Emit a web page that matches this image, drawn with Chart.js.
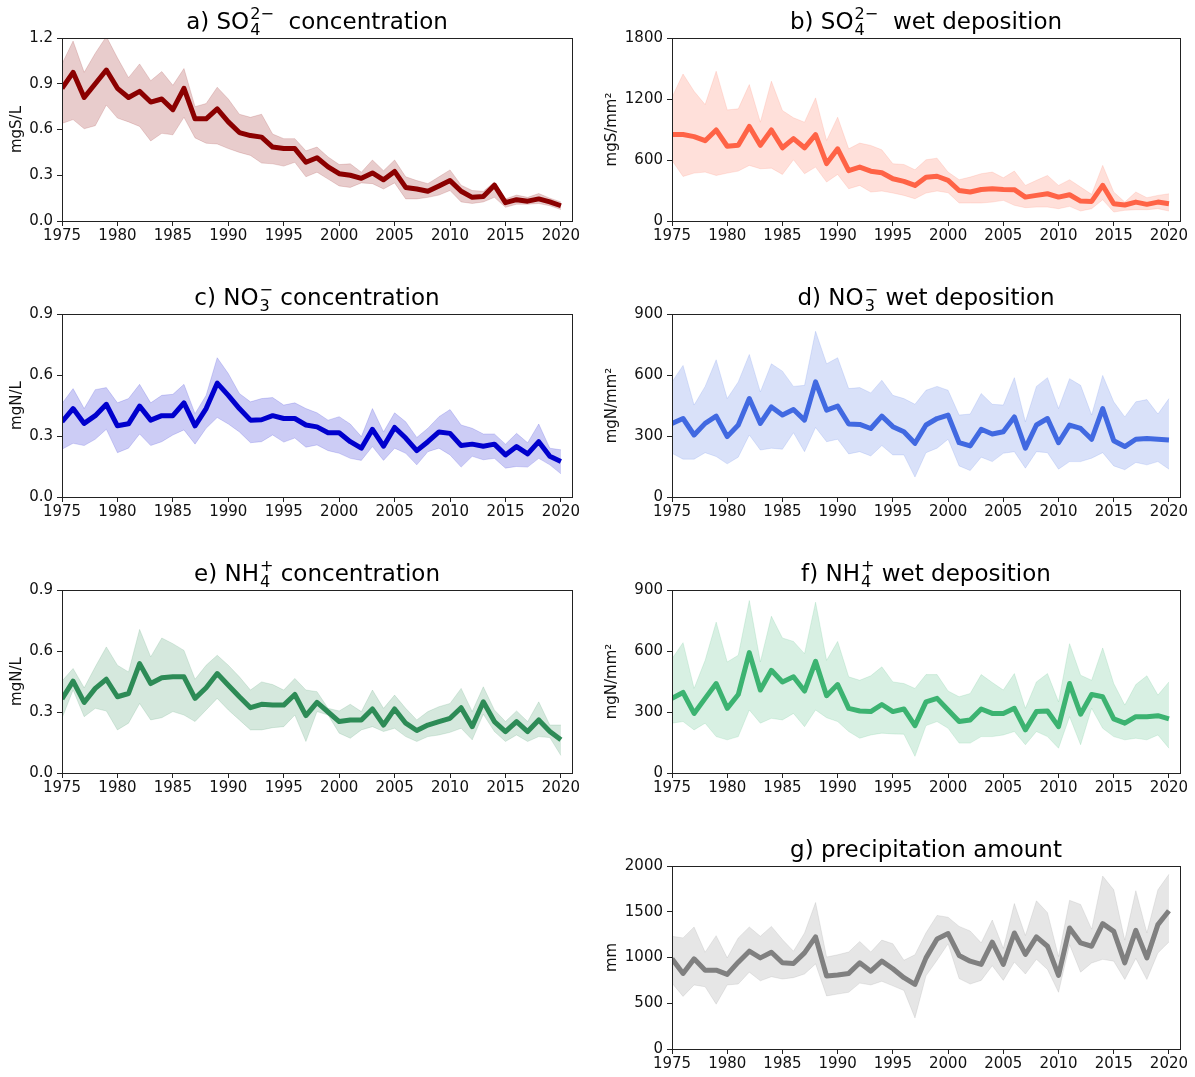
<!DOCTYPE html>
<html lang="en">
<head>
    <meta charset="UTF-8">
    <title>Wet deposition trends</title>
    <script src="https://cdn.jsdelivr.net/npm/chart.js"></script>
    <style>
        body {
            margin: 0;
            background: #fff;
            width: 1195px;
            height: 1077px;
            position: relative;
            overflow: hidden;
        }
        canvas {
            position: absolute;
        }
    </style>
</head>
<body>

    <canvas id="pa" width="590" height="260" style="left:0;top:0"></canvas>
    <canvas id="pb" width="595" height="260" style="left:600px;top:0"></canvas>
    <canvas id="pc" width="590" height="260" style="left:0;top:276px"></canvas>
    <canvas id="pd" width="595" height="260" style="left:600px;top:276px"></canvas>
    <canvas id="pe" width="590" height="260" style="left:0;top:552px"></canvas>
    <canvas id="pf" width="595" height="260" style="left:600px;top:552px"></canvas>
    <canvas id="pg" width="595" height="260" style="left:600px;top:828px"></canvas>

    <script>
        const years = [1975, 1976, 1977, 1978, 1979, 1980, 1981, 1982, 1983, 1984,
            1985, 1986, 1987, 1988, 1989, 1990, 1991, 1992, 1993, 1994,
            1995, 1996, 1997, 1998, 1999, 2000, 2001, 2002, 2003, 2004,
            2005, 2006, 2007, 2008, 2009, 2010, 2011, 2012, 2013, 2014,
            2015, 2016, 2017, 2018, 2019, 2020];

        // a) SO4 concentration (mgS/L)
        const so4ConcMean = [0.87, 0.975, 0.81, 0.90, 0.99, 0.87, 0.81, 0.85, 0.78, 0.80,
            0.73, 0.87, 0.67, 0.67, 0.735, 0.65, 0.58, 0.56, 0.55, 0.485,
            0.475, 0.475, 0.385, 0.415, 0.355, 0.31, 0.30, 0.28, 0.315, 0.27,
            0.325, 0.22, 0.21, 0.195, 0.23, 0.265, 0.195, 0.155, 0.16, 0.235,
            0.12, 0.14, 0.13, 0.145, 0.125, 0.10];
        const so4ConcHigh = [1.03, 1.18, 0.975, 1.10, 1.21, 1.07, 0.94, 1.03, 0.92, 0.98,
            0.89, 1.0, 0.75, 0.77, 0.877, 0.80, 0.70, 0.68, 0.70, 0.57,
            0.54, 0.54, 0.46, 0.485, 0.42, 0.37, 0.375, 0.32, 0.40, 0.33,
            0.40, 0.29, 0.265, 0.245, 0.29, 0.335, 0.235, 0.20, 0.195, 0.255,
            0.145, 0.17, 0.155, 0.18, 0.15, 0.125];
        const so4ConcLow = [0.64, 0.665, 0.605, 0.625, 0.76, 0.675, 0.65, 0.62, 0.525, 0.575,
            0.565, 0.68, 0.545, 0.51, 0.505, 0.475, 0.45, 0.43, 0.38, 0.375,
            0.36, 0.385, 0.29, 0.32, 0.275, 0.23, 0.22, 0.25, 0.245, 0.21,
            0.25, 0.145, 0.145, 0.155, 0.17, 0.20, 0.125, 0.115, 0.125, 0.155,
            0.09, 0.11, 0.11, 0.115, 0.10, 0.075];

        // b) SO4 wet deposition (mgS/mm2)
        const so4DepMean = [851, 850, 830, 790, 895, 735, 745, 930, 745, 895,
            720, 810, 720, 850, 565, 710, 495, 530, 490, 475,
            415, 390, 350, 430, 440, 400, 300, 285, 310, 318,
            310, 308, 235, 252, 268, 235, 258, 196, 193, 350,
            170, 157, 186, 164, 186, 170];
        const so4DepHigh = [1217, 1446, 1276, 1145, 1473, 1093, 1103, 1342, 972, 1375,
            1087, 1015, 972, 1211, 792, 1021, 710, 766, 743, 700,
            563, 556, 504, 602, 618, 481, 406, 432, 465, 481,
            425, 491, 350, 400, 448, 350, 406, 334, 262, 547,
            285, 186, 285, 229, 252, 268];
        const so4DepLow = [596, 438, 471, 481, 448, 471, 491, 547, 514, 520,
            458, 602, 465, 530, 383, 458, 317, 350, 285, 295,
            275, 252, 219, 275, 295, 278, 177, 177, 177, 186,
            203, 154, 131, 137, 137, 121, 144, 98, 121, 209,
            88, 105, 111, 111, 121, 98];

        // c) NO3 concentration (mgN/L)
        const no3ConcMean = [0.37, 0.435, 0.362, 0.40, 0.456, 0.35, 0.36, 0.447, 0.378, 0.40,
            0.40, 0.463, 0.35, 0.435, 0.56, 0.50, 0.435, 0.378, 0.38, 0.40,
            0.386, 0.386, 0.354, 0.345, 0.316, 0.316, 0.272, 0.24, 0.333, 0.25,
            0.342, 0.29, 0.228, 0.272, 0.32, 0.313, 0.253, 0.26, 0.25, 0.26,
            0.207, 0.248, 0.212, 0.272, 0.20, 0.175];
        const no3ConcHigh = [0.46, 0.533, 0.435, 0.528, 0.538, 0.463, 0.484, 0.554, 0.463, 0.50,
            0.505, 0.554, 0.41, 0.50, 0.685, 0.607, 0.509, 0.468, 0.484, 0.489,
            0.452, 0.463, 0.435, 0.414, 0.378, 0.395, 0.359, 0.297, 0.435, 0.32,
            0.414, 0.37, 0.293, 0.338, 0.395, 0.43, 0.354, 0.338, 0.31, 0.31,
            0.26, 0.313, 0.267, 0.359, 0.24, 0.232];
        const no3ConcLow = [0.235, 0.264, 0.253, 0.284, 0.333, 0.218, 0.24, 0.31, 0.253, 0.272,
            0.305, 0.33, 0.26, 0.338, 0.391, 0.359, 0.32, 0.267, 0.272, 0.305,
            0.27, 0.29, 0.245, 0.256, 0.228, 0.215, 0.19, 0.18, 0.248, 0.18,
            0.24, 0.215, 0.158, 0.223, 0.24, 0.207, 0.147, 0.20, 0.183, 0.19,
            0.142, 0.15, 0.147, 0.19, 0.158, 0.114];

        // d) NO3 wet deposition (mgN/mm2)
        const no3DepMean = [362, 386, 305, 362, 398, 297, 354, 484, 362, 443,
            403, 430, 378, 566, 427, 447, 359, 357, 337, 398,
            346, 321, 264, 354, 386, 403, 267, 251, 333, 310,
            321, 394, 240, 354, 386, 267, 354, 337, 284, 435,
            277, 248, 284, 288, 284, 280];
        const no3DepHigh = [566, 647, 452, 544, 675, 484, 566, 701, 517, 655,
            619, 544, 549, 815, 655, 685, 533, 538, 512, 574,
            500, 484, 456, 525, 544, 525, 403, 408, 509, 456,
            452, 587, 370, 544, 587, 435, 582, 549, 403, 598,
            468, 394, 468, 479, 408, 484];
        const no3DepLow = [215, 186, 186, 218, 199, 163, 196, 305, 231, 240,
            235, 316, 223, 342, 272, 284, 212, 223, 202, 253,
            207, 207, 98, 218, 240, 284, 153, 130, 196, 174,
            215, 223, 142, 223, 218, 137, 174, 174, 191, 218,
            153, 134, 170, 158, 174, 137];

        // e) NH4 concentration (mgN/L)
        const nh4ConcMean = [0.364, 0.452, 0.347, 0.416, 0.461, 0.375, 0.391, 0.538, 0.44, 0.468,
            0.473, 0.473, 0.367, 0.419, 0.489, 0.432, 0.375, 0.321, 0.338, 0.334,
            0.334, 0.386, 0.282, 0.347, 0.30, 0.253, 0.261, 0.261, 0.315, 0.236,
            0.315, 0.245, 0.209, 0.236, 0.253, 0.269, 0.321, 0.228, 0.35, 0.253,
            0.204, 0.253, 0.204, 0.261, 0.204, 0.163];
        const nh4ConcHigh = [0.452, 0.514, 0.419, 0.522, 0.62, 0.53, 0.497, 0.706, 0.571, 0.664,
            0.636, 0.603, 0.461, 0.53, 0.579, 0.53, 0.473, 0.408, 0.448, 0.435,
            0.408, 0.465, 0.408, 0.40, 0.318, 0.305, 0.338, 0.302, 0.408, 0.318,
            0.383, 0.318, 0.261, 0.302, 0.326, 0.342, 0.416, 0.302, 0.424, 0.31,
            0.253, 0.305, 0.253, 0.35, 0.236, 0.236];
        const nh4ConcLow = [0.269, 0.408, 0.277, 0.318, 0.305, 0.212, 0.245, 0.342, 0.261, 0.272,
            0.302, 0.285, 0.253, 0.31, 0.367, 0.31, 0.261, 0.212, 0.212, 0.223,
            0.228, 0.285, 0.155, 0.302, 0.285, 0.196, 0.171, 0.212, 0.228, 0.204,
            0.22, 0.179, 0.155, 0.179, 0.187, 0.20, 0.22, 0.163, 0.289, 0.204,
            0.155, 0.187, 0.155, 0.179, 0.174, 0.086];

        // f) NH4 wet deposition (mgN/mm2)
        const nh4DepMean = [367, 396, 293, 367, 440, 318, 386, 592, 408, 505,
            448, 473, 403, 549, 380, 435, 318, 305, 302, 337,
            302, 315, 233, 350, 367, 310, 253, 261, 315, 293,
            293, 318, 212, 302, 305, 228, 440, 289, 386, 375,
            266, 245, 277, 277, 282, 266];
        const nh4DepHigh = [562, 641, 416, 554, 742, 546, 579, 848, 546, 771,
            664, 647, 587, 840, 554, 647, 473, 456, 478, 522,
            448, 440, 416, 484, 484, 403, 375, 391, 484, 445,
            408, 489, 318, 448, 489, 350, 636, 481, 456, 615,
            440, 334, 435, 478, 383, 448];
        const nh4DepLow = [245, 253, 212, 245, 179, 163, 179, 310, 245, 269,
            261, 293, 228, 310, 272, 253, 204, 171, 187, 196,
            192, 191, 82, 233, 253, 220, 147, 147, 179, 179,
            187, 204, 139, 204, 179, 122, 277, 139, 318, 220,
            179, 163, 171, 163, 187, 122];

        // g) precipitation amount (mm)
        const precipMean = [985, 826, 985, 862, 862, 815, 949, 1069, 996, 1058,
            942, 935, 1051, 1225, 797, 808, 826, 942, 851, 960,
            877, 779, 706, 996, 1203, 1261, 1022, 960, 924, 1167,
            924, 1268, 1033, 1225, 1123, 804, 1322, 1159, 1123, 1370,
            1286, 942, 1297, 996, 1359, 1511];
        const precipHigh = [1232, 1214, 1333, 1058, 1239, 996, 1214, 1333, 1232, 1340,
            1196, 1069, 1268, 1601, 1005, 1030, 1060, 1175, 1060, 1190,
            1150, 970, 1030, 1270, 1460, 1440, 1340, 1290, 1160, 1410,
            1100, 1590, 1240, 1620, 1490, 1010, 1625, 1580, 1310, 1890,
            1740, 1190, 1730, 1270, 1740, 1910];
        const precipLow = [720, 575, 700, 680, 490, 700, 710, 840, 745, 790,
            765, 780, 820, 930, 580, 600, 620, 720, 700, 740,
            690, 640, 340, 800, 970, 1150, 770, 710, 750, 910,
            750, 950, 820, 980, 870, 620, 1140, 840, 940, 980,
            960, 760, 990, 760, 1050, 1170];

        const FONT = "'DejaVu Sans', sans-serif";

        // title with matplotlib-like stacked super/subscript
        const titlePlugin = {
            id: 'mplTitle',
            afterDraw(chart, args, opts) {
                const ctx = chart.ctx;
                const size = opts.size;
                const small = size * 0.7;
                const big = `${size}px ${FONT}`;
                const sm = `${small}px ${FONT}`;
                let total = 0;
                opts.parts.forEach(p => {
                    if (typeof p === 'string') {
                        ctx.font = big;
                        total += ctx.measureText(p).width;
                    } else {
                        ctx.font = sm;
                        total += Math.max(ctx.measureText(p.sup).width, ctx.measureText(p.sub).width) + 1;
                    }
                });
                const area = chart.chartArea;
                let x = (area.left + area.right) / 2 - total / 2;
                const base = opts.baseline;
                ctx.save();
                ctx.fillStyle = '#000';
                ctx.textBaseline = 'alphabetic';
                ctx.textAlign = 'left';
                opts.parts.forEach(p => {
                    if (typeof p === 'string') {
                        ctx.font = big;
                        ctx.fillText(p, x, base);
                        x += ctx.measureText(p).width;
                    } else {
                        ctx.font = sm;
                        ctx.fillText(p.sup, x + 1, base - size * 0.42);
                        ctx.fillText(p.sub, x + 1, base + size * 0.26);
                        x += Math.max(ctx.measureText(p.sup).width, ctx.measureText(p.sub).width) + 1;
                    }
                });
                ctx.restore();
            }
        };

        // box around the plot area (all four spines)
        const framePlugin = {
            id: 'frame',
            afterDatasetsDraw(chart) {
                const a = chart.chartArea;
                const ctx = chart.ctx;
                ctx.save();
                ctx.strokeStyle = '#222';
                ctx.lineWidth = 1;
                ctx.strokeRect(Math.round(a.left) + 0.5, Math.round(a.top) + 0.5,
                    Math.round(a.right - a.left), Math.round(a.bottom - a.top));
                ctx.restore();
            }
        };

        function toXY(values) {
            return values.map((v, i) => ({ x: years[i], y: v }));
        }

        function makePanel(id, p) {
            const ctx = document.getElementById(id).getContext('2d');
            return new Chart(ctx, {
                type: 'line',
                data: {
                    datasets: [
                        {
                            data: toXY(p.high),
                            borderColor: p.edge,
                            borderWidth: 1,
                            backgroundColor: p.band,
                            fill: '+1',
                            pointRadius: 0,
                            tension: 0
                        },
                        {
                            data: toXY(p.low),
                            borderColor: p.edge,
                            borderWidth: 1,
                            fill: false,
                            pointRadius: 0,
                            tension: 0
                        },
                        {
                            data: toXY(p.mean),
                            borderColor: p.color,
                            borderWidth: 5,
                            fill: false,
                            pointRadius: 0,
                            tension: 0,
                            borderJoinStyle: 'round',
                            borderCapStyle: 'butt'
                        }
                    ]
                },
                options: {
                    responsive: false,
                    animation: false,
                    events: [],
                    layout: {
                        padding: { top: 38, right: p.padRight, left: 0, bottom: 0 }
                    },
                    plugins: {
                        legend: { display: false },
                        tooltip: { enabled: false },
                        mplTitle: { parts: p.title, size: 23, baseline: 29 }
                    },
                    scales: {
                        x: {
                            type: 'linear',
                            min: 1975,
                            max: 2021,
                            border: { display: false },
                            grid: {
                                drawOnChartArea: false,
                                drawTicks: true,
                                tickLength: 5,
                                tickColor: '#222'
                            },
                            ticks: {
                                stepSize: 5,
                                includeBounds: false,
                                autoSkip: false,
                                maxRotation: 0,
                                padding: 1,
                                color: '#111',
                                font: { family: FONT, size: 15 },
                                callback: v => String(v)
                            },
                            afterFit: s => { s.height = 39; }
                        },
                        y: {
                            min: 0,
                            max: p.ymax,
                            border: { display: false },
                            grid: {
                                drawOnChartArea: false,
                                drawTicks: true,
                                tickLength: 5,
                                tickColor: '#222'
                            },
                            ticks: {
                                stepSize: p.ystep,
                                padding: 4,
                                color: '#111',
                                font: { family: FONT, size: 15 },
                                callback: v => p.decimals ? v.toFixed(p.decimals) : String(Math.round(v))
                            },
                            title: {
                                display: true,
                                text: p.ylabel,
                                color: '#111',
                                font: { family: FONT, size: 15 },
                                padding: { top: p.titlePad, bottom: 0 }
                            },
                            afterFit: s => { s.width = p.axisWidth; }
                        }
                    }
                },
                plugins: [titlePlugin, framePlugin]
            });
        }

        const leftPanel = { padRight: 18, axisWidth: 62, titlePad: 8 };
        const rightPanel = { padRight: 15, axisWidth: 72, titlePad: 3 };

        makePanel('pa', Object.assign({}, leftPanel, {
            title: ['a) SO', { sup: '2\u2212', sub: '4' }, '  concentration'],
            mean: so4ConcMean, high: so4ConcHigh, low: so4ConcLow,
            color: '#8b0000', band: 'rgba(139,0,0,0.2)', edge: 'rgba(139,0,0,0.15)',
            ymax: 1.2, ystep: 0.3, decimals: 1, ylabel: 'mgS/L'
        }));
        makePanel('pb', Object.assign({}, rightPanel, {
            title: ['b) SO', { sup: '2\u2212', sub: '4' }, '  wet deposition'],
            mean: so4DepMean, high: so4DepHigh, low: so4DepLow,
            color: '#ff6347', band: 'rgba(255,99,71,0.2)', edge: 'rgba(255,99,71,0.15)',
            ymax: 1800, ystep: 600, decimals: 0, ylabel: 'mgS/mm\u00b2'
        }));
        makePanel('pc', Object.assign({}, leftPanel, {
            title: ['c) NO', { sup: '\u2212', sub: '3' }, ' concentration'],
            mean: no3ConcMean, high: no3ConcHigh, low: no3ConcLow,
            color: '#0000cd', band: 'rgba(0,0,205,0.2)', edge: 'rgba(0,0,205,0.15)',
            ymax: 0.9, ystep: 0.3, decimals: 1, ylabel: 'mgN/L'
        }));
        makePanel('pd', Object.assign({}, rightPanel, {
            title: ['d) NO', { sup: '\u2212', sub: '3' }, ' wet deposition'],
            mean: no3DepMean, high: no3DepHigh, low: no3DepLow,
            color: '#4169e1', band: 'rgba(65,105,225,0.2)', edge: 'rgba(65,105,225,0.15)',
            ymax: 900, ystep: 300, decimals: 0, ylabel: 'mgN/mm\u00b2'
        }));
        makePanel('pe', Object.assign({}, leftPanel, {
            title: ['e) NH', { sup: '+', sub: '4' }, ' concentration'],
            mean: nh4ConcMean, high: nh4ConcHigh, low: nh4ConcLow,
            color: '#2e8b57', band: 'rgba(46,139,87,0.2)', edge: 'rgba(46,139,87,0.15)',
            ymax: 0.9, ystep: 0.3, decimals: 1, ylabel: 'mgN/L'
        }));
        makePanel('pf', Object.assign({}, rightPanel, {
            title: ['f) NH', { sup: '+', sub: '4' }, ' wet deposition'],
            mean: nh4DepMean, high: nh4DepHigh, low: nh4DepLow,
            color: '#3cb371', band: 'rgba(60,179,113,0.2)', edge: 'rgba(60,179,113,0.15)',
            ymax: 900, ystep: 300, decimals: 0, ylabel: 'mgN/mm\u00b2'
        }));
        makePanel('pg', Object.assign({}, rightPanel, {
            title: ['g) precipitation amount'],
            mean: precipMean, high: precipHigh, low: precipLow,
            color: '#808080', band: 'rgba(128,128,128,0.2)', edge: 'rgba(128,128,128,0.15)',
            ymax: 2000, ystep: 500, decimals: 0, ylabel: 'mm'
        }));
    </script>

</body>
</html>
